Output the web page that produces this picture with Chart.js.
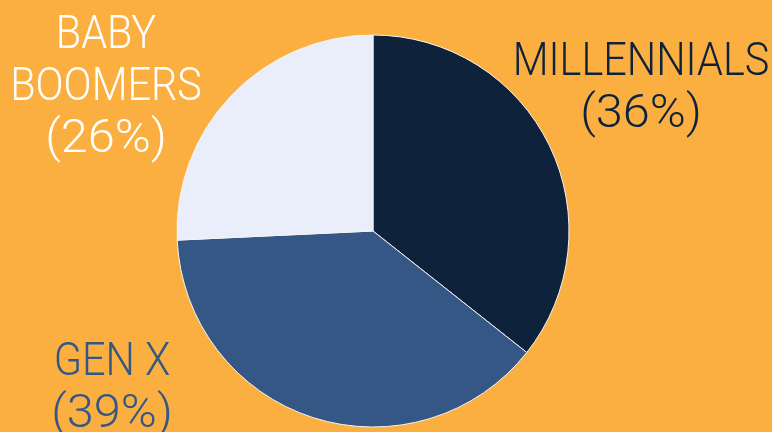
<!DOCTYPE html>
<html>
<head>
<meta charset="utf-8">
<script src="https://cdn.jsdelivr.net/npm/chart.js@4"></script>
<style>
  html, body { margin: 0; padding: 0; background: #fbaf41; }
  #wrap { width: 772px; height: 432px; }
</style>
</head>
<body>
<div id="wrap"><canvas id="pie"></canvas></div>
<script>
// generation shares, percent
const labels = [["MILLENNIALS"], ["GEN X"], ["BABY", "BOOMERS"]];
const shares = [36, 39, 26];
const colors = ["#0e223b", "#355785", "#eaeefb"];
const textColors = ["#0e223b", "#355785", "#ffffff"];
// where each caption sits (centre x, first baseline)
const labelSpots = [[641, 75], [112, 375], [106, 48]];

const captions = {
    id: "captions",
    afterDraw(chart) {
        const ctx = chart.ctx;
        ctx.save();
        ctx.font = "300 46px Roboto";
        ctx.textAlign = "center";
        ctx.textBaseline = "alphabetic";
        labels.forEach((lines, i) => {
            const [x, y] = labelSpots[i];
            const all = lines.concat("(" + shares[i] + "%)");
            ctx.fillStyle = textColors[i];
            all.forEach((line, j) => {
                // names are set narrow, the percent line a touch wider
                const sx = j < lines.length ? 0.9 : 1.06;
                ctx.save();
                ctx.translate(x, y + j * 52);
                ctx.scale(sx, 1);
                ctx.fillText(line, 0, 0);
                ctx.restore();
            });
        });
        ctx.restore();
    }
};

new Chart(document.getElementById("pie"), {
    type: "pie",
    data: {
        labels: labels,
        datasets: [{
            data: shares,
            backgroundColor: colors,
            borderColor: "#f3f3f3",
            borderWidth: 1
        }]
    },
    options: {
        responsive: true,
        maintainAspectRatio: false,
        animation: false,
        radius: 196,
        layout: { padding: { left: 0, right: 26, top: 30, bottom: 0 } },
        plugins: {
            legend: { display: false },
            tooltip: { enabled: false }
        }
    },
    plugins: [captions]
});
</script>
</body>
</html>
